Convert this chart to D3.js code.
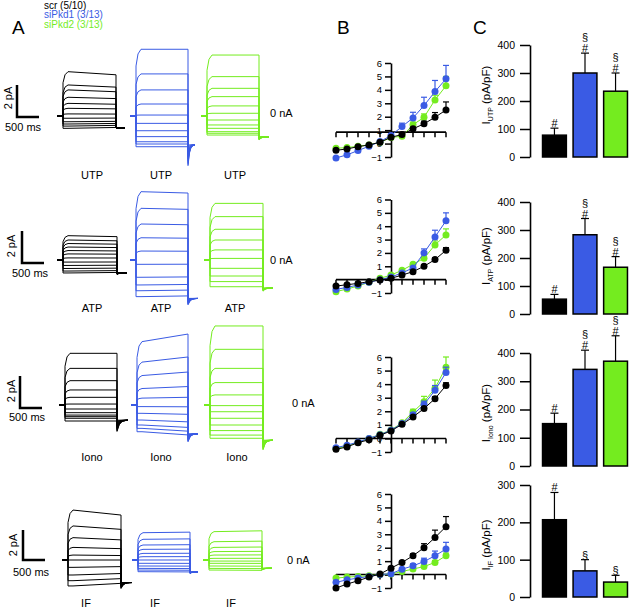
<!DOCTYPE html>
<html lang="en">
<head>
<meta charset="UTF-8">
<title>Pkd1 / Pkd2 currents</title>
<script src="https://d3js.org/d3.v7.min.js"></script>
<style>
  body { margin: 0; background: #fff; }
  svg { font-family: Arial, "Liberation Sans", sans-serif; display: block; }
</style>
</head>
<body>
<svg width="633" height="611"></svg>
<script>
// groups and colours
const groups = ["scr (5/10)", "siPkd1 (3/13)", "siPkd2 (3/13)"];
const colors = ["#000000", "#3a5be4", "#74ec1f"];
const agonists = ["UTP", "ATP", "Iono", "IF"];

// A: steady step levels of each current family (pA)
const tracesUTP = [
  [2.77, 1.94, 1.63, 1.17, 0.79, 0.48, 0.13, -0.14, -0.36, -0.5, -0.63, -0.77],
  [4.17, 2.63, 1.63, 0.75, 0.06, -0.46, -0.92, -1.29, -1.61, -1.75, -1.92],
  [3.81, 2.46, 1.73, 1.21, 0.63, 0.17, -0.25, -0.56, -0.77, -0.98, -1.08, -1.19]
];
const tracesATP = [
  [1.52, 1.25, 1.03, 0.81, 0.59, 0.38, 0.13, -0.13, -0.34, -0.53, -0.69, -0.81],
  [4.27, 3.23, 2.25, 1.39, 0.56, -0.27, -1.08, -1.56, -1.92, -2.29],
  [3.54, 2.71, 1.92, 1.25, 0.63, 0.1, -0.52, -1.0, -1.35, -1.67]
];
const tracesIono = [
  [3.23, 2.29, 1.52, 0.94, 0.48, 0.06, -0.25, -0.48, -0.63, -0.73, -0.83, -1.0],
  [3.96, 2.68, 1.84, 1.03, 0.43, -0.1, -0.52, -0.94, -1.25, -1.46, -1.67],
  [4.94, 3.48, 2.29, 1.4, 0.63, -0.04, -0.42, -0.83, -1.25, -1.6, -1.88, -2.08]
];
const tracesIF = [
  [3.33, 2.27, 1.49, 0.84, 0.33, 0, -0.49, -1.0, -1.38, -1.73],
  [1.82, 1.38, 1.0, 0.71, 0.44, 0.22, 0, -0.22, -0.4, -0.56, -0.67, -0.78],
  [1.89, 1.22, 0.84, 0.56, 0.33, 0.11, -0.07, -0.22, -0.4, -0.56, -0.67]
];
// drift over the step, tail level and tail spike (pA)
const traceDrift = [[-0.07, 0, 0], [-0.04, -0.02, 0], [0, 0.12, 0], [-0.1, 0.02, 0.03]];
const traceTail = [[-0.75, -1.8, -1.3], [-0.8, -2.4, -1.75], [-0.95, -1.8, -2.2], [-1.5, -0.8, -0.55]];
const tailSpike = [[0, -1.3, -0.2], [-0.1, -0.4, -0.2], [-0.7, -0.5, -0.6], [-0.4, -0.1, -0.1]];

// B: current / voltage (nA)
const voltages = [-100, -80, -60, -40, -20, 0, 20, 40, 60, 80, 100];
const yTicksIV = [-1, 0, 1, 2, 3, 4, 5, 6];
const ivUTP = [
  [-0.5, -0.4, -0.23, -0.1, 0.1, 0.47, 0.67, 1.1, 1.47, 1.96, 2.5],
  [-1.07, -0.84, -0.52, -0.2, 0.15, 0.6, 1.27, 1.91, 2.83, 3.87, 4.82],
  [-0.35, -0.3, -0.2, -0.1, 0.1, 0.45, 0.55, 1.4, 1.96, 3.25, 4.3]
];
const ivUTPsem = [
  [0, 0, 0, 0, 0, 0, 0, 0.1, 0.2, 0.35, 0.6],
  [0, 0, 0, 0, 0, 0.05, 0.25, 0.42, 0.62, 0.83, 1.0],
  [0, 0, 0, 0, 0, 0, 0.1, 0.2, 0.25, 0.35, 0.7]
];
const ivATP = [
  [-0.48, -0.38, -0.28, -0.15, -0.03, 0.1, 0.34, 0.6, 1.0, 1.5, 2.2],
  [-0.73, -0.58, -0.4, -0.2, 0, 0.2, 0.5, 0.88, 2.0, 3.2, 4.4],
  [-0.9, -0.7, -0.48, -0.2, 0.1, 0.34, 0.7, 1.15, 1.6, 2.6, 3.35]
];
const ivATPsem = [
  [0, 0, 0, 0, 0, 0, 0, 0.05, 0.1, 0.15, 0.2],
  [0, 0, 0, 0, 0, 0, 0.05, 0.1, 0.3, 0.5, 0.6],
  [0, 0, 0, 0, 0, 0, 0.05, 0.1, 0.15, 0.3, 0.45]
];
const ivIono = [
  [-0.8, -0.63, -0.31, -0.1, 0.23, 0.55, 1.04, 1.58, 2.2, 2.93, 3.9],
  [-0.68, -0.5, -0.26, 0, 0.28, 0.6, 1.1, 1.75, 2.5, 3.55, 4.85],
  [-0.75, -0.55, -0.28, 0, 0.3, 0.62, 1.15, 1.95, 2.7, 3.7, 5.25]
];
const ivIonoSem = [
  [0, 0, 0, 0, 0, 0, 0, 0.05, 0.1, 0.15, 0.2],
  [0, 0, 0, 0, 0, 0, 0.05, 0.15, 0.25, 0.35, 0.4],
  [0, 0, 0, 0, 0, 0, 0.1, 0.2, 0.4, 0.6, 0.75]
];
const ivIF = [
  [-1.0, -0.71, -0.46, -0.19, 0.04, 0.48, 0.9, 1.4, 2.0, 2.76, 3.57],
  [-0.58, -0.39, -0.26, -0.14, 0, 0.06, 0.4, 0.65, 0.97, 1.4, 1.9],
  [-0.26, -0.19, -0.14, -0.09, 0, 0.04, 0.23, 0.41, 0.6, 0.9, 1.4]
];
const ivIFsem = [
  [0, 0, 0, 0, 0, 0, 0.05, 0.15, 0.3, 0.55, 0.75],
  [0, 0, 0, 0, 0, 0, 0.05, 0.15, 0.25, 0.35, 0.5],
  [0, 0, 0, 0, 0, 0, 0.05, 0.1, 0.1, 0.15, 0.2]
];

// C: current densities (pA/pF)
const barUTP = [78, 300, 235], semUTP = [25, 71, 65], marksUTP = ["#", "#§", "#§"];
const barATP = [53, 283, 167], semATP = [17, 58, 38], marksATP = ["#", "#§", "#§"];
const barIono = [150, 342, 371], semIono = [37, 68, 90], marksIono = ["#", "#§", "#§"];
const barIF = [207, 70, 40], semIF = [73, 30, 18], marksIF = ["#", "§", "§"];
const barMax = [400, 400, 400, 300];

const rows = [
  { traces: tracesUTP, iv: ivUTP, ivSem: ivUTPsem, bars: barUTP, sem: semUTP, marks: marksUTP },
  { traces: tracesATP, iv: ivATP, ivSem: ivATPsem, bars: barATP, sem: semATP, marks: marksATP },
  { traces: tracesIono, iv: ivIono, ivSem: ivIonoSem, bars: barIono, sem: semIono, marks: marksIono },
  { traces: tracesIF, iv: ivIF, ivSem: ivIFsem, bars: barIF, sem: semIF, marks: marksIF }
];

// page layout of each row
const layout = [
  { zero: 116, ppa: 16, x0: [63, 136, 207], x1: [116, 188, 259], tailLen: [9, 7, 10],
    sbX: 17, sbY: 117, pAx: 12, pAy: 98, msX: 5, msY: 131, labY: 179, labX: [92, 161, 235],
    nAx: 270, nAy: 117, ivY: [157, 63], ivAxis: 0.85, cY: [157, 45], cLabY: 95 },
  { zero: 260, ppa: 16, x0: [63, 136, 210], x1: [117, 188, 263], tailLen: [10, 10, 10],
    sbX: 22, sbY: 263, pAx: 15, pAy: 246, msX: 12, msY: 277, labY: 312, labX: [92, 161, 235],
    nAx: 270, nAy: 264, ivY: [293, 199.5], ivAxis: 0, cY: [314, 202], cLabY: 256 },
  { zero: 405, ppa: 16, x0: [65, 137, 210], x1: [117, 188, 263], tailLen: [11, 10, 10],
    sbX: 20, sbY: 408, pAx: 15, pAy: 391, msX: 9, msY: 421, labY: 461, labX: [92, 161, 237],
    nAx: 292, nAy: 407, ivY: [452, 357], ivAxis: 0, cY: [466, 353], cLabY: 413 },
  { zero: 560, ppa: 15, x0: [68, 138, 209], x1: [121, 190, 262], tailLen: [11, 8, 10],
    sbX: 23, sbY: 560, pAx: 17, pAy: 545, msX: 13, msY: 576, labY: 607, labX: [86, 155, 231],
    nAx: 287, nAy: 564, ivY: [588, 494], ivAxis: 0, cY: [597, 485], cLabY: 545 }
];

const svg = d3.select("svg");
const line = d3.line();
const fontFam = "Arial, 'Liberation Sans', sans-serif";

// panel letters
svg.append("text").attr("x", 12).attr("y", 34).attr("font-size", 19).text("A");
svg.append("text").attr("x", 337).attr("y", 34).attr("font-size", 19).text("B");
svg.append("text").attr("x", 473).attr("y", 34).attr("font-size", 19).text("C");

// legend
groups.forEach((g, i) => {
  svg.append("text").attr("x", 44).attr("y", 8.5 + i * 9.5)
    .attr("font-size", 10).attr("fill", colors[i]).text(g);
});

rows.forEach((row, r) => {
  const L = layout[r];
  const y = d3.scaleLinear().domain([0, 1]).range([L.zero, L.zero - L.ppa]);

  // ---- A: current families
  row.traces.forEach((levels, g) => {
    const x0 = L.x0[g], x1 = L.x1[g], n = levels.length;
    const drift = traceDrift[r][g], tail = traceTail[r][g], spike = tailSpike[r][g];
    const gA = svg.append("g").attr("fill", "none").attr("stroke", colors[g]).attr("stroke-width", 1);
    levels.forEach((v, i) => {
      const pts = [[x0 - 6, y(0)], [x0, y(0)]];
      if (v > 0) {
        pts.push([x0, y(v * 0.75)], [x0 + 2, y(v * 0.93)], [x0 + 5, y(v)]);
      } else {
        pts.push([x0, y(v)], [x0 + 5, y(v)]);
      }
      pts.push([x1, y(v * (1 + drift))]);
      const t0 = tail + spike * (1 - i / (n - 1));
      d3.range(6).forEach(k => {
        pts.push([x1 + L.tailLen[g] * k / 5, y(tail + (t0 - tail) * Math.exp(-k * 0.9))]);
      });
      gA.append("path").attr("d", line(pts));
    });
    svg.append("text").attr("x", L.labX[g]).attr("y", L.labY)
      .attr("text-anchor", "middle").attr("font-size", 11).text(agonists[r]);
  });

  // scale bar
  svg.append("path")
    .attr("d", line([[L.sbX, y(2) - (L.zero - L.sbY)], [L.sbX, L.sbY], [L.sbX + 22, L.sbY]]))
    .attr("fill", "none").attr("stroke", "#000").attr("stroke-width", 2.5);
  svg.append("text").attr("transform", `translate(${L.pAx},${L.pAy}) rotate(-90)`)
    .attr("text-anchor", "middle").attr("font-size", 11).text("2 pA");
  svg.append("text").attr("x", L.msX).attr("y", L.msY).attr("font-size", 11).text("500 ms");
  svg.append("text").attr("x", L.nAx).attr("y", L.nAy).attr("font-size", 11).text("0 nA");

  // ---- B: I/V curves
  const xv = d3.scaleLinear().domain([-100, 100]).range([336, 446]);
  const yv = d3.scaleLinear().domain([-1, 6]).range(L.ivY);
  const gB = svg.append("g");
  gB.append("path")
    .attr("d", line([[xv(-100), yv(L.ivAxis)], [xv(100), yv(L.ivAxis)]]))
    .attr("stroke", "#000").attr("stroke-width", 1.6);
  voltages.forEach(v => {
    gB.append("line").attr("x1", xv(v)).attr("x2", xv(v))
      .attr("y1", yv(L.ivAxis)).attr("y2", yv(L.ivAxis) + 5)
      .attr("stroke", "#000").attr("stroke-width", 1.5);
  });
  const yAxisB = gB.append("g").attr("transform", `translate(${xv(0)},0)`)
    .call(d3.axisLeft(yv).tickValues(yTicksIV).tickFormat(d3.format("d"))
      .tickSize(6).tickSizeOuter(0).tickPadding(3));
  yAxisB.select(".domain").attr("stroke-width", 1.6);
  yAxisB.selectAll(".tick line").attr("stroke-width", 1.5);
  yAxisB.selectAll(".tick text").attr("font-size", 9.5).attr("font-family", fontFam);

  [2, 1, 0].forEach(g => {
    const vals = row.iv[g], sem = row.ivSem[g];
    const gs = gB.append("g");
    const errs = voltages.map((v, i) => ({ v, lo: vals[i], hi: vals[i] + sem[i] })).filter(d => d.hi > d.lo);
    gs.selectAll("line.err").data(errs).join("line")
      .attr("x1", d => xv(d.v)).attr("x2", d => xv(d.v))
      .attr("y1", d => yv(d.lo)).attr("y2", d => yv(d.hi))
      .attr("stroke", colors[g]).attr("stroke-width", 1.2);
    gs.selectAll("line.cap").data(errs.filter(d => d.hi - d.lo > 0.08)).join("line")
      .attr("x1", d => xv(d.v) - 3).attr("x2", d => xv(d.v) + 3)
      .attr("y1", d => yv(d.hi)).attr("y2", d => yv(d.hi))
      .attr("stroke", colors[g]).attr("stroke-width", 1.2);
    gs.append("path")
      .attr("d", line(voltages.map((v, i) => [xv(v), yv(vals[i])])))
      .attr("fill", "none").attr("stroke", colors[g]).attr("stroke-width", 1);
    gs.selectAll("circle").data(voltages).join("circle")
      .attr("cx", v => xv(v)).attr("cy", (v, i) => yv(vals[i])).attr("r", 3.5)
      .attr("fill", colors[g]);
  });

  // ---- C: bar chart
  const xb = d3.scaleBand().domain(d3.range(3)).range([541, 629]).paddingInner(0.22).paddingOuter(0.05);
  const yb = d3.scaleLinear().domain([0, barMax[r]]).range(L.cY);
  const gC = svg.append("g");
  row.bars.forEach((b, g) => {
    const cx = xb(g) + xb.bandwidth() / 2;
    const top = yb(b + row.sem[g]);
    gC.append("line").attr("x1", cx).attr("x2", cx).attr("y1", yb(b)).attr("y2", top)
      .attr("stroke", "#000").attr("stroke-width", 1.2);
    gC.append("line").attr("x1", cx - 4).attr("x2", cx + 4).attr("y1", top).attr("y2", top)
      .attr("stroke", "#000").attr("stroke-width", 1.2);
    gC.append("rect").attr("x", xb(g)).attr("y", yb(b))
      .attr("width", xb.bandwidth()).attr("height", yb(0) - yb(b))
      .attr("fill", colors[g]).attr("stroke", "#000").attr("stroke-width", 1.5);
    const m = row.marks[g];
    if (m.includes("#")) {
      gC.append("text").attr("x", cx).attr("y", top - 1).attr("text-anchor", "middle")
        .attr("font-size", 11).text("#");
    }
    if (m.includes("§")) {
      gC.append("text").attr("x", cx).attr("y", m.includes("#") ? top - 12 : top - 1)
        .attr("text-anchor", "middle").attr("font-size", 11).text("§");
    }
  });
  const yAxisC = gC.append("g").attr("transform", "translate(530,0)")
    .call(d3.axisLeft(yb).tickValues(d3.range(0, barMax[r] + 1, 100)).tickSize(10).tickSizeOuter(0).tickPadding(5));
  yAxisC.select(".domain").attr("stroke-width", 1.6);
  yAxisC.selectAll(".tick line").attr("stroke-width", 1.5);
  yAxisC.selectAll(".tick text").attr("font-size", 10.5).attr("font-family", fontFam);

  const lab = gC.append("text").attr("transform", `translate(490,${L.cLabY}) rotate(-90)`)
    .attr("text-anchor", "middle").attr("font-size", 11.5);
  lab.append("tspan").text("I");
  lab.append("tspan").attr("font-size", 7).attr("dy", 3).text(agonists[r]);
  lab.append("tspan").attr("dy", -3).text(" (pA/pF)");
});
</script>
</body>
</html>
